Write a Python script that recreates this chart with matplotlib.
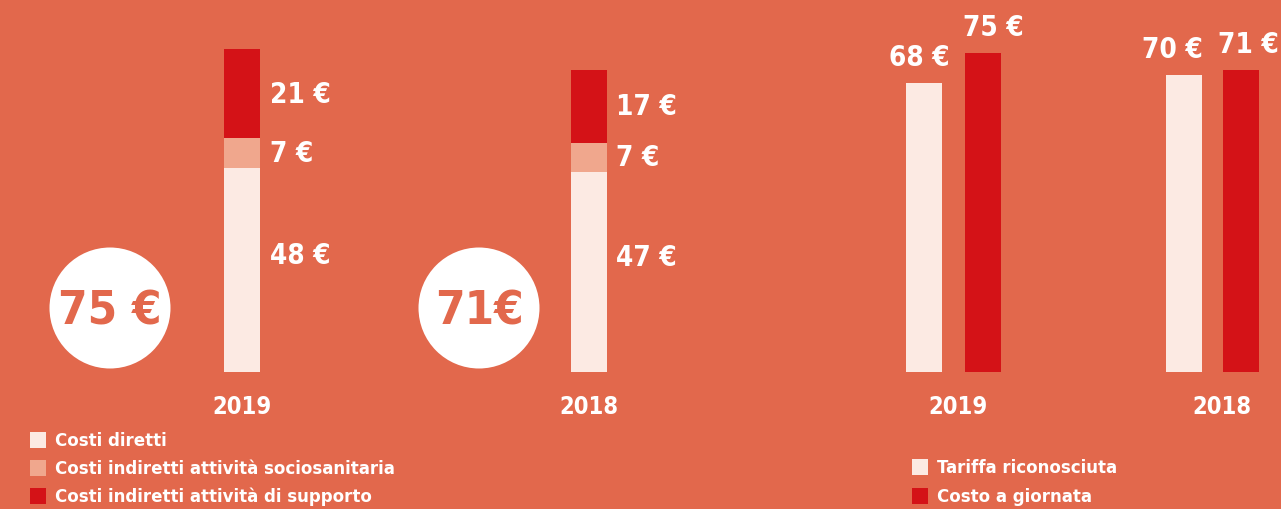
import matplotlib.pyplot as plt
from matplotlib.patches import Ellipse, Rectangle

plt.rcParams['font.family'] = ['DejaVu Sans']
plt.rcParams['font.stretch'] = 'condensed'
plt.rcParams['font.weight'] = 'bold'

# dati
anni = ['2019', '2018']
costi_diretti = [48, 47]
costi_sociosanitari = [7, 7]
costi_supporto = [21, 17]
totali = [75, 71]

tariffa = [68, 70]
costo_giornata = [75, 71]

legenda_sx = ['Costi diretti', 'Costi indiretti attività sociosanitaria',
              'Costi indiretti attività di supporto']
legenda_dx = ['Tariffa riconosciuta', 'Costo a giornata']

sfondo = '#E2684C'
chiaro = '#FCEAE3'
rosa = '#F0A78D'
rosso = '#D41217'

# scala: 4.25 px per euro, zero a 373 px dall'alto
k = 4.25
W, H = 1281, 510
fig = plt.figure(figsize=(W / 100, H / 100), dpi=100, facecolor=sfondo)
ax = fig.add_axes([0, 0, 1, 1])
ax.set_facecolor(sfondo)
ax.set_xlim(0, W)
ax.set_ylim(-(H - 373) / k, 373 / k)
ax.axis('off')

def py(p):  # pixel dall'alto -> unita' dati
    return (373 - p) / k

fs_val = 20
fs_anno = 17

# barre impilate
x_stack = [241.5, 588.5]
bw = 36
for i, x in enumerate(x_stack):
    b1 = costi_diretti[i]
    b2 = b1 + costi_sociosanitari[i]
    ax.bar(x, costi_diretti[i], width=bw, color=chiaro, lw=0)
    ax.bar(x, costi_sociosanitari[i], bottom=b1, width=bw, color=rosa, lw=0)
    ax.bar(x, costi_supporto[i], bottom=b2, width=bw, color=rosso, lw=0)
    tx = x + bw / 2 + 10
    ax.text(tx, b1 * 0.575, f'{costi_diretti[i]} €', color='white', fontsize=fs_val,
            ha='left', va='center')
    ax.text(tx, b1 + costi_sociosanitari[i] / 2, f'{costi_sociosanitari[i]} €',
            color='white', fontsize=fs_val, ha='left', va='center')
    ax.text(tx, b2 + costi_supporto[i] / 2, f'{costi_supporto[i]} €',
            color='white', fontsize=fs_val, ha='left', va='center')
    ax.text(x, py(407), anni[i], color='white', fontsize=fs_anno, ha='center', va='center')

# cerchi con totale
cx = [110, 479]
etichette_tot = [f'{totali[0]} €', f'{totali[1]}€']
for i in range(2):
    ax.add_patch(Ellipse((cx[i], py(309)), 121, 121 / k, color='white', lw=0))
    ax.text(cx[i], py(312), etichette_tot[i], color=sfondo, fontsize=34,
            ha='center', va='center')

# barre affiancate
x_grp = [953.5, 1212.5]
off = [29.5, 28.5]
dx_lab = [(-5, 10), (-11.5, 7)]
dx_anno = [4.5, 9.5]
for i, x in enumerate(x_grp):
    ax.bar(x - off[i], tariffa[i], width=bw, color=chiaro, lw=0)
    ax.bar(x + off[i], costo_giornata[i], width=bw, color=rosso, lw=0)
    ax.text(x - off[i] + dx_lab[i][0], tariffa[i] + 2.8, f'{tariffa[i]} €', color='white',
            fontsize=fs_val, ha='center', va='bottom')
    ax.text(x + off[i] + dx_lab[i][1], costo_giornata[i] + 2.8, f'{costo_giornata[i]} €',
            color='white', fontsize=fs_val, ha='center', va='bottom')
    ax.text(x + dx_anno[i], py(407), anni[i], color='white', fontsize=fs_anno,
            ha='center', va='center')

# legende
def voce(x, y, colore, testo):
    ax.add_patch(Rectangle((x, py(y + 8)), 16, 16 / k, color=colore, lw=0))
    ax.text(x + 25, py(y), testo, color='white', fontsize=13.3, ha='left', va='center')

for j, (c, t) in enumerate(zip([chiaro, rosa, rosso], legenda_sx)):
    voce(30, 441 + 28 * j, c, t)
for j, (c, t) in enumerate(zip([chiaro, rosso], legenda_dx)):
    voce(912, 468 + 29 * j, c, t)

fig.savefig('out.png', dpi=100, facecolor=sfondo)
